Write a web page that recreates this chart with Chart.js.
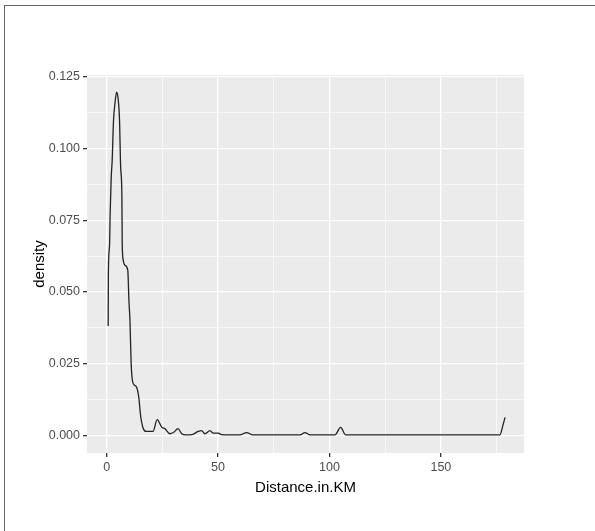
<!DOCTYPE html>
<html>
<head>
<meta charset="utf-8">
<script src="https://cdn.jsdelivr.net/npm/chart.js@4.4.1/dist/chart.umd.min.js"></script>
<style>
  html, body { margin: 0; padding: 0; background: #fff; }
  #frame { position: absolute; left: 4px; top: 5px; width: 591px; height: 526px;
           border-top: 1.5px solid #666; border-left: 1.5px solid #666; }
  #wrap { position: absolute; left: 0; top: 0; width: 595px; height: 531px; }
</style>
</head>
<body>
<div id="frame"></div>
<div id="wrap"><canvas id="myChart" width="595" height="531"></canvas></div>
<script>
// distancia (km) y densidad
const distanceKm = [0.7, 0.8, 1.3, 1.6, 2.05, 2.5, 3.1, 3.8, 4.5, 5.2, 5.8, 6.3, 6.85, 7.0, 7.45, 8.1, 9.5, 10.0, 10.5, 11.0,
  11.8, 13.3, 14.4, 15.3, 16.3, 17.8, 20.8, 22.7, 24.7, 26.2, 28.4, 30.3, 32.0, 33.7, 35.5, 38.3, 41.1, 42.6, 44.1,
  46.4, 47.8, 50.1, 51.5, 55, 59.8, 62.8, 65.7, 86.8, 89, 91.3, 102.5, 105, 107.3, 176.5, 177.9, 178.8];
const density = [0.0382, 0.057, 0.066, 0.0774, 0.0896, 0.0958, 0.1097, 0.116, 0.1195, 0.117, 0.1097, 0.0934, 0.0837, 0.067,
  0.0611, 0.0594, 0.0576, 0.0472, 0.0397, 0.0253, 0.0184, 0.0171, 0.0136, 0.0067, 0.0028, 0.0015, 0.0015, 0.0056,
  0.003, 0.0024, 0.0007, 0.0013, 0.0025, 0.0007, 0.0003, 0.0004, 0.0015, 0.0018, 0.0007, 0.0018, 0.0009, 0.0009,
  0.0004, 0.0003, 0.0003, 0.0011, 0.0003, 0.0003, 0.0011, 0.0003, 0.0003, 0.0029, 0.0003, 0.0003, 0.0038, 0.0064];

const xTicks = [0, 25, 50, 75, 100, 125, 150, 175];
const xLabels = ['0', '', '50', '', '100', '', '150', ''];
const yTicks = [0, 0.0125, 0.025, 0.0375, 0.05, 0.0625, 0.075, 0.0875, 0.1, 0.1125, 0.125];
const yLabels = ['0.000', '', '0.025', '', '0.050', '', '0.075', '', '0.100', '', '0.125'];

const puntos = distanceKm.map((d, i) => ({ x: d, y: density[i] }));

// fondo gris del panel
const fondoPanel = {
  id: 'fondoPanel',
  beforeDraw(chart) {
    const a = chart.chartArea;
    const ctx = chart.ctx;
    ctx.save();
    ctx.fillStyle = '#EBEBEB';
    ctx.fillRect(a.left, a.top, a.right - a.left, a.bottom - a.top);
    ctx.restore();
  }
};

function esMayor(labels, ctx) {
  return ctx.index !== undefined && labels[ctx.index] !== '';
}

const config = {
  type: 'line',
  data: {
    datasets: [{
      data: puntos,
      borderColor: '#222',
      borderWidth: 1.3,
      pointRadius: 0,
      fill: false,
      cubicInterpolationMode: 'monotone'
    }]
  },
  options: {
    responsive: false,
    animation: false,
    layout: { padding: { left: 0, top: 75, right: 71, bottom: 0 } },
    plugins: { legend: { display: false }, tooltip: { enabled: false } },
    scales: {
      x: {
        type: 'linear',
        min: -8.8,
        max: 187.3,
        afterBuildTicks: s => { s.ticks = xTicks.map(v => ({ value: v })); },
        afterFit: s => { s.height = 78; },
        border: { display: false },
        grid: {
          color: '#fff',
          lineWidth: c => esMayor(xLabels, c) ? 1.3 : 0.6,
          tickColor: c => esMayor(xLabels, c) ? '#333' : 'rgba(0,0,0,0)',
          tickLength: 4
        },
        ticks: {
          padding: 3,
          color: '#4D4D4D',
          font: { family: 'Liberation Sans, Arial', size: 12.5 },
          maxRotation: 0,
          autoSkip: false,
          callback: (v, i) => xLabels[i]
        },
        title: {
          display: true,
          text: 'Distance.in.KM',
          color: '#000',
          font: { family: 'Liberation Sans, Arial', size: 15 },
          padding: { top: 0, bottom: 34 }
        }
      },
      y: {
        min: -0.006,
        max: 0.1255,
        afterBuildTicks: s => { s.ticks = yTicks.map(v => ({ value: v })); },
        afterFit: s => { s.width = 87; },
        border: { display: false },
        grid: {
          color: '#fff',
          lineWidth: c => esMayor(yLabels, c) ? 1.3 : 0.6,
          tickColor: c => esMayor(yLabels, c) ? '#333' : 'rgba(0,0,0,0)',
          tickLength: 4
        },
        ticks: {
          padding: 3,
          color: '#4D4D4D',
          font: { family: 'Liberation Sans, Arial', size: 12.5 },
          autoSkip: false,
          callback: (v, i) => yLabels[i]
        },
        title: {
          display: true,
          text: 'density',
          color: '#000',
          font: { family: 'Liberation Sans, Arial', size: 15 },
          padding: { top: 31, bottom: 0 }
        }
      }
    }
  },
  plugins: [fondoPanel]
};

const myChart = new Chart(document.getElementById('myChart'), config);
</script>
</body>
</html>
